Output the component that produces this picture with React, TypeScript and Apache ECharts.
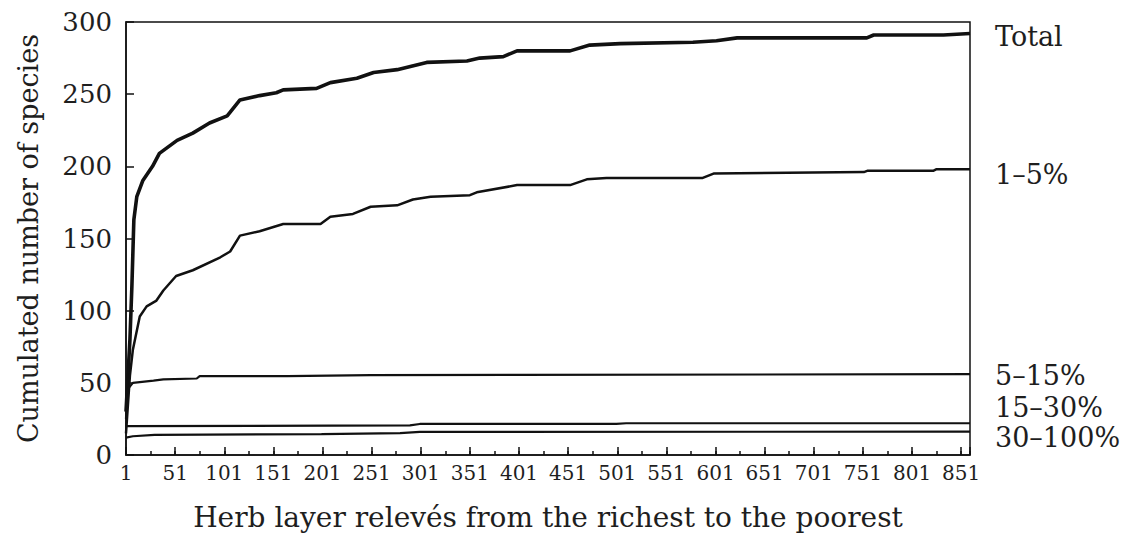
import React, { useEffect, useRef } from "react";
import * as echarts from "echarts";

// Relevé rank (1 = richest) and cumulated species counts
const totalReleve = [1, 3, 5, 7, 9, 12, 18, 28, 35, 53, 69, 86, 104, 117, 137, 154, 161, 195, 209, 236, 253, 277, 307, 348, 361, 385, 399, 453, 473, 504, 578, 602, 623, 755, 762, 833, 860];
const totalValues = [30, 55, 80, 117, 163, 179, 190, 200, 209, 218, 223, 230, 235, 246, 249, 251, 253, 254, 258, 261, 265, 267, 272, 273, 275, 276, 280, 280, 284, 285, 286, 287, 289, 289, 291, 291, 292];

const r1to5Releve = [1, 3, 5, 8, 15, 22, 32, 39, 52, 69, 97, 107, 117, 137, 161, 199, 209, 232, 250, 277, 293, 311, 351, 358, 399, 453, 470, 490, 588, 599, 752, 756, 823, 826, 860];
const r1to5Values = [15, 35, 55, 73, 96, 103, 107, 114, 124, 128, 137, 141, 152, 155, 160, 160, 165, 167, 172, 173, 177, 179, 180, 182, 187, 187, 191, 192, 192, 195, 196, 197, 197, 198, 198];

const r5to15Releve = [1, 2, 8, 29, 39, 73, 76, 165, 250, 402, 860];
const r5to15Values = [25, 45, 50, 51.5, 52.4, 53, 54.7, 54.7, 55.4, 55.5, 56];

const r15to30Releve = [1, 290, 300, 500, 510, 860];
const r15to30Values = [20, 20.5, 21.5, 21.5, 22, 22];

const r30to100Releve = [1, 8, 30, 200, 280, 300, 860];
const r30to100Values = [12, 13, 14, 14.5, 15.2, 16, 16.2];

const seriesNames = ["Total", "1–5%", "5–15%", "15–30%", "30–100%"];
const seriesWidths = [3.6, 2.5, 2.2, 2.2, 2.2];
const labelY = [39, 177, 378, 410, 440];

const xMin = 0;
const xMax = 859;
const yMin = 0;
const yMax = 300;

const FONT = "DejaVu Serif";
const INK = "#111111";

function pairs(xs: number[], ys: number[]) {
  return xs.map((x, i) => [x - 1, ys[i]]);
}

export default function App() {
  const ref = useRef<HTMLDivElement>(null);
  useEffect(() => {
    if (!ref.current) return;
    const chart = echarts.init(ref.current, null, { renderer: "svg" });
    const data = [
      pairs(totalReleve, totalValues),
      pairs(r1to5Releve, r1to5Values),
      pairs(r5to15Releve, r5to15Values),
      pairs(r15to30Releve, r15to30Values),
      pairs(r30to100Releve, r30to100Values),
    ];
    chart.setOption({
      animation: false,
      backgroundColor: "#ffffff",
      grid: {
        left: 126,
        right: 161,
        top: 22,
        bottom: 85,
        show: true,
        borderColor: INK,
        borderWidth: 1.5,
        backgroundColor: "transparent",
      },
      xAxis: [
        {
          type: "value",
          min: xMin,
          max: xMax,
          interval: 50,
          name: "Herb layer relevés from the richest to the poorest",
          nameLocation: "middle",
          nameGap: 48,
          nameTextStyle: { fontFamily: FONT, fontSize: 28, color: "#1e1e1e" },
          axisLine: { show: true, lineStyle: { color: INK, width: 1.5 } },
          axisTick: { show: true, inside: true, length: 8, lineStyle: { color: INK, width: 1.5 } },
          axisLabel: {
            fontFamily: FONT,
            fontSize: 20,
            color: "#1e1e1e",
            margin: 8,
            formatter: (v: number) => (v % 50 === 0 ? String(v + 1) : ""),
          },
          splitLine: { show: false },
        },
        {
          type: "value",
          min: xMin,
          max: xMax,
          interval: 25,
          position: "bottom",
          axisLine: { show: false },
          axisTick: { show: true, inside: true, length: 4, lineStyle: { color: INK, width: 1.5 } },
          axisLabel: { show: false },
          splitLine: { show: false },
        },
      ],
      yAxis: {
        type: "value",
        min: yMin,
        max: yMax,
        interval: 50,
        name: "Cumulated number of species",
        nameLocation: "middle",
        nameGap: 84,
        nameTextStyle: { fontFamily: FONT, fontSize: 27, color: "#1e1e1e" },
        axisLine: { show: true, lineStyle: { color: INK, width: 1.5 } },
        axisTick: { show: true, inside: true, length: 8, lineStyle: { color: INK, width: 1.5 } },
        axisLabel: { fontFamily: FONT, fontSize: 26, color: "#1e1e1e", margin: 14 },
        splitLine: { show: false },
      },
      series: data.map((d, i) => ({
        type: "line",
        name: seriesNames[i],
        xAxisIndex: 0,
        data: d,
        showSymbol: false,
        symbol: "none",
        lineStyle: { color: INK, width: seriesWidths[i] },
        z: 3,
      })),
      graphic: seriesNames.map((n, i) => ({
        type: "text",
        left: 995,
        top: labelY[i] - 16,
        style: { text: n, fontFamily: FONT, fontSize: 27, fill: "#1e1e1e" },
      })),
    });
    return () => chart.dispose();
  }, []);
  return (
    <div
      ref={ref}
      style={{ position: "fixed", left: 0, top: 0, width: 1131, height: 540, background: "#fff" }}
    />
  );
}
